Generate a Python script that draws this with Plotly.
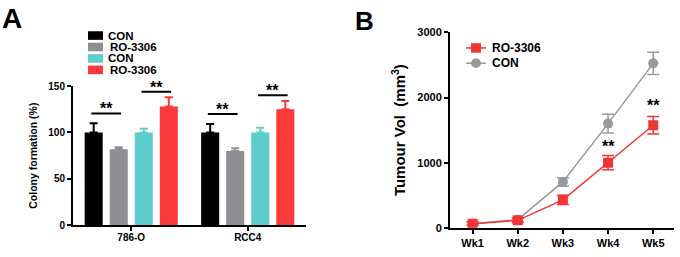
import plotly.graph_objects as go

# ---- Panel A data ----
cell_lines = ["786-O", "RCC4"]
bar_names = ["CON", "RO-3306", "CON", "RO-3306"]
bar_colors = ["#000000", "#8E8E93", "#5CCCCC", "#F93A3A"]
bar_values = [[100, 100], [82, 80], [100, 100], [128, 125]]
bar_errors = [[10, 9], [2, 3], [4, 5], [10, 9]]
sig_pairs = [(0, 1), (2, 3)]
sig_levels = [[120.5, 143.8], [120, 140]]  # per cell line, per pair

# ---- Panel B data ----
weeks = ["Wk1", "Wk2", "Wk3", "Wk4", "Wk5"]
ro_vol = [64, 115, 430, 1000, 1575]
ro_err = [25, 35, 70, 110, 135]
con_vol = [64, 125, 705, 1600, 2525]
con_err = [20, 30, 65, 145, 170]
star_weeks = ["Wk4", "Wk5"]
star_level = [1250, 1880]

FONT = "Liberation Sans, Arial, sans-serif"
W, H = 680, 257

fig = go.Figure()

bargap = 0.14
slot = (1 - bargap) / 4
for i, name in enumerate(bar_names):
    fig.add_trace(go.Bar(
        x=cell_lines, y=bar_values[i], name=name,
        marker=dict(color=bar_colors[i], line=dict(width=0)),
        error_y=dict(type="data", array=bar_errors[i], arrayminus=[0, 0],
                     symmetric=False, color=bar_colors[i], thickness=2, width=4),
        xaxis="x", yaxis="y", showlegend=False,
    ))

shapes = []
annotations = []
for g, cl in enumerate(cell_lines):
    for p, (a, b) in enumerate(sig_pairs):
        xa = g + (a - 1.5) * slot - 0.02
        xb = g + (b - 1.5) * slot + 0.02
        yv = sig_levels[g][p]
        shapes.append(dict(type="line", xref="x", yref="y", x0=xa, x1=xb,
                           y0=yv, y1=yv, line=dict(color="black", width=2)))
        annotations.append(dict(xref="x", yref="y", x=(xa + xb) / 2, y=yv,
                                text="<b>**</b>", showarrow=False, yanchor="bottom",
                                yshift=-6, font=dict(size=16, color="black", family=FONT)))

fig.add_trace(go.Scatter(
    x=weeks, y=con_vol, name="CON", mode="lines+markers",
    line=dict(color="#9A9A9A", width=1.5),
    marker=dict(symbol="circle", size=10, color="#9A9A9A"),
    error_y=dict(type="data", array=con_err, color="#9A9A9A", thickness=1.5, width=6),
    xaxis="x2", yaxis="y2", showlegend=False,
))
fig.add_trace(go.Scatter(
    x=weeks, y=ro_vol, name="RO-3306", mode="lines+markers",
    line=dict(color="#F23535", width=1.5),
    marker=dict(symbol="square", size=10, color="#F23535"),
    error_y=dict(type="data", array=ro_err, color="#F23535", thickness=1.5, width=6),
    xaxis="x2", yaxis="y2", showlegend=False,
))
for wk, lv in zip(star_weeks, star_level):
    annotations.append(dict(xref="x2", yref="y2", x=wk, y=lv, text="<b>**</b>",
                            showarrow=False, font=dict(size=16, color="black", family=FONT)))

# manual legend A
leg_top = 31
for i, name in enumerate(bar_names):
    yc = leg_top + i * 12
    shapes.append(dict(type="rect", xref="paper", yref="paper",
                       x0=88 / W, x1=103 / W, y0=1 - (yc + 4.5) / H, y1=1 - (yc - 4.5) / H,
                       fillcolor=bar_colors[i], line=dict(width=0)))
    annotations.append(dict(xref="paper", yref="paper", x=(106 if i % 2 == 0 else 108) / W,
                            y=1 - yc / H, xanchor="left", yanchor="middle", showarrow=False,
                            text="<b>%s</b>" % name, font=dict(size=11.5, color="black", family=FONT)))

# manual legend B
leg_b = [("RO-3306", "#F23535", "rect", 44), ("CON", "#9A9A9A", "circle", 60)]
for name, col, sym, yc in leg_b:
    shapes.append(dict(type="line", xref="paper", yref="paper", x0=466 / W, x1=486 / W,
                       y0=1 - yc / H, y1=1 - yc / H, line=dict(color=col, width=1.5)))
    shapes.append(dict(type=sym, xref="paper", yref="paper", x0=471 / W, x1=481 / W,
                       y0=1 - (yc + 5) / H, y1=1 - (yc - 5) / H, fillcolor=col,
                       line=dict(width=0)))
    annotations.append(dict(xref="paper", yref="paper", x=490 / W, y=1 - yc / H,
                            xanchor="left", yanchor="middle", showarrow=False,
                            text="<b>%s</b>" % name, font=dict(size=12, color="black", family=FONT)))

# panel labels
annotations.append(dict(xref="paper", yref="paper", x=0 / W, y=1 + 5 / H, xanchor="left",
                        yanchor="top", showarrow=False, text="<b>A</b>",
                        font=dict(size=28, color="black", family=FONT)))
annotations.append(dict(xref="paper", yref="paper", x=353 / W, y=1 + 2 / H, xanchor="left",
                        yanchor="top", showarrow=False, text="<b>B</b>",
                        font=dict(size=26, color="black", family=FONT)))

axis_common = dict(showline=True, linecolor="black", linewidth=2, showgrid=False,
                   zeroline=False, ticks="outside", ticklen=4, tickwidth=1.5,
                   tickcolor="black", tickfont=dict(size=10, color="black", family=FONT))

fig.update_layout(
    width=W, height=H, margin=dict(l=0, r=0, t=0, b=0),
    paper_bgcolor="white", plot_bgcolor="white",
    barmode="group", bargap=bargap, bargroupgap=0.28,
    font=dict(family=FONT, color="black"),
    xaxis=dict(domain=[73 / W, 306 / W], anchor="y", range=[-0.5, 1.5],
               tickvals=cell_lines, ticktext=["<b>%s</b>" % c for c in cell_lines],
               ticklabelstandoff=-2, **axis_common),
    yaxis=dict(domain=[1 - 230 / H, 1 - 84 / H], anchor="x", range=[0, 150],
               tickvals=[0, 50, 100, 150], ticktext=["<b>0</b>", "<b>50</b>", "<b>100</b>", "<b>150</b>"],
               title=dict(text="<b>Colony formation (%)</b>", standoff=9,
                          font=dict(size=10.5, color="black", family=FONT)),
               **axis_common),
    xaxis2=dict(domain=[450 / W, 674 / W], anchor="y2", range=[-0.5, 4.46],
                tickvals=weeks, ticktext=["<b>%s</b>" % w for w in weeks],
                **{**axis_common, "tickfont": dict(size=11, color="black", family=FONT)}),
    yaxis2=dict(domain=[1 - 232.7 / H, 1 - 27.7 / H], anchor="x2", range=[0, 3000],
                tickvals=[0, 1000, 2000, 3000],
                ticktext=["<b>0</b>", "<b>1000</b>", "<b>2000</b>", "<b>3000</b>"],
                title=dict(text="<b>Tumour Vol  (mm<sup>3</sup>)</b>", standoff=8,
                           font=dict(size=15, color="black", family=FONT)),
                **{**axis_common, "tickfont": dict(size=11, color="black", family=FONT)}),
    shapes=shapes, annotations=annotations,
)

fig.write_html("out.html", config={"displayModeBar": False},
               post_script="document.body.style.margin='0';document.body.style.padding='0';")
